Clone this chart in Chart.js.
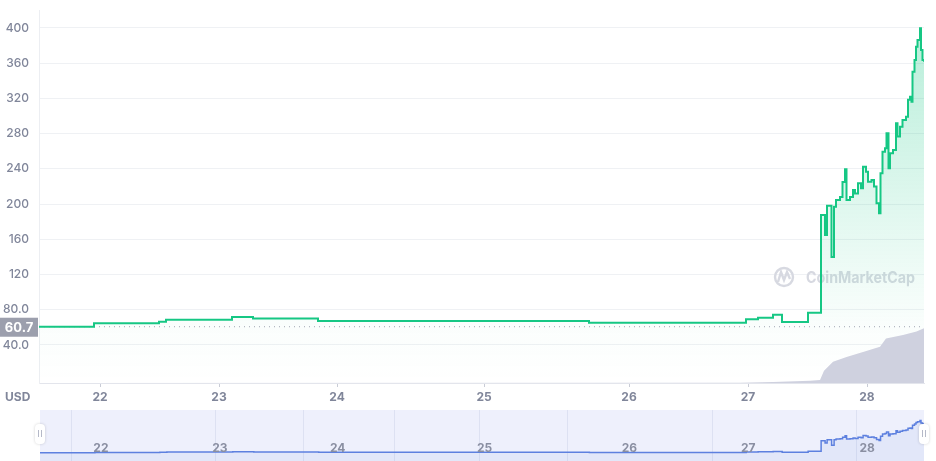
<!DOCTYPE html>
<html>
<head>
<meta charset="utf-8">
<script src="https://cdn.jsdelivr.net/npm/chart.js@4"></script>
<style>
  html, body { margin: 0; padding: 0; background: #fff; }
  #wrap { position: relative; width: 936px; height: 461px; }
  #priceChart { position: absolute; left: 0; top: 0; }
  #navChart { position: absolute; left: 0; top: 406px; }
</style>
</head>
<body>
<div id="wrap">
  <canvas id="priceChart" width="936" height="406"></canvas>
  <canvas id="navChart" width="936" height="55"></canvas>
</div>
<script>
// Price chart (USD) over ~7 days, x = sample index of the feed
const DAY_LABELS = ['22', '23', '24', '25', '26', '27', '28'];
const DAY_TICKS = [12.2, 36, 59.6, 89, 118, 141.8, 165.6];
const NAV_GRID = [6.2, 35, 52.6, 70.8, 87.8, 105.6, 134.6, 163.4];
const Y_TICKS = [40, 80, 120, 160, 200, 240, 280, 320, 360, 400];
const OPEN_PRICE = 60.7;
const X_END = 177;

const PRICE_T = [
    0, 11, 24, 25.4, 38.6, 42.8, 55.8, 110, 141.4, 143.8, 146.8, 148.6, 153.8,
    156.4, 157.2, 157.6, 158.5, 159, 159.4, 160.2, 160.7, 161.2, 161.5, 162.2,
    162.8, 163.2, 163.8, 164.4, 164.8, 165.4, 165.8, 166.5, 167, 167.5, 168,
    168.3, 168.7, 169.2, 169.5, 169.9, 170.2, 170.8, 171.4, 171.7, 172.2, 172.7,
    173.4, 173.8, 174.2, 174.5, 174.7, 175.1, 175.4, 175.7, 176.2, 176.4, 176.7, 177
];
const PRICE_USD = [
    60.7, 64.6, 66.4, 68.7, 71.8, 70.0, 67.2, 65.3, 69.2, 71.0, 74.4, 66.0, 76.7,
    187.6, 165, 198, 140, 197, 204.6, 208, 225, 239.5, 204.6, 208,
    216, 212, 223.6, 218, 242.5, 236.8, 225.4, 227.4, 220, 200.9, 189.6,
    235, 259.5, 263.3, 280.4, 240.6, 257.7, 261.4, 291.7, 276.7, 287.9, 295.5,
    299.2, 318.4, 322, 316.3, 350.3, 363.6, 378.8, 386.4, 399.7, 374.9, 363.6, 361.7
];

// volume, arbitrary units (drawn on its own hidden axis)
const VOLUME_T = [0, 140.2, 146.8, 154.2, 156.2, 157, 158.8, 161.5, 164.8, 168.2, 169.4, 172.8, 175.5, 177];
const VOLUME_M = [0, 0.1, 0.3, 0.6, 0.8, 3.3, 5.7, 7.0, 8.3, 9.7, 11.9, 12.9, 13.8, 14.7];

const GREEN = '#16c784';
const TICK_GREY = '#80869a';
const FONT = 'Inter, "Noto Sans", sans-serif';

const pts = (xs, ys) => xs.map((x, i) => ({ x: x, y: ys[i] }));

function greenFill(ctx) {
    const area = ctx.chart.chartArea;
    if (!area) return 'rgba(22,199,132,0.1)';
    const g = ctx.chart.ctx.createLinearGradient(0, area.top, 0, area.bottom);
    g.addColorStop(0, 'rgba(22,199,132,0.32)');
    g.addColorStop(0.85, 'rgba(22,199,132,0.02)');
    g.addColorStop(1, 'rgba(22,199,132,0)');
    return g;
}

const extras = {
    id: 'extras',
    beforeDatasetsDraw(chart) {
        // CoinMarketCap watermark
        const { ctx } = chart;
        ctx.save();
        ctx.strokeStyle = '#d7d9e1';
        ctx.lineWidth = 2.4;
        ctx.beginPath();
        ctx.arc(784, 277, 9, 0, Math.PI * 2);
        ctx.stroke();
        ctx.beginPath();
        ctx.moveTo(778, 282);
        ctx.lineTo(781, 272);
        ctx.lineTo(784, 280);
        ctx.lineTo(787, 272);
        ctx.lineTo(790, 279);
        ctx.stroke();
        ctx.fillStyle = '#d7d9e1';
        ctx.font = 'bold 16px ' + FONT;
        ctx.textBaseline = 'middle';
        ctx.fillText('CoinMarketCap', 806, 278, 109);
        ctx.restore();
    },
    afterDraw(chart) {
        const { ctx, scales } = chart;
        ctx.save();
        // current price tag on the y axis
        const y = scales.y.getPixelForValue(OPEN_PRICE);
        ctx.fillStyle = '#9c9fad';
        ctx.fillRect(0, y - 9, 38, 19);
        ctx.fillStyle = '#fff';
        ctx.font = 'bold 13px ' + FONT;
        ctx.textAlign = 'center';
        ctx.textBaseline = 'middle';
        ctx.fillText(OPEN_PRICE.toFixed(1), 19, y + 1);
        // currency caption
        ctx.fillStyle = TICK_GREY;
        ctx.font = 'bold 12px ' + FONT;
        ctx.textAlign = 'left';
        ctx.fillText('USD', 5, 397);
        ctx.restore();
    }
};

new Chart(document.getElementById('priceChart'), {
    type: 'line',
    data: {
        datasets: [
            {
                data: pts(PRICE_T, PRICE_USD),
                borderColor: GREEN,
                borderWidth: 2,
                stepped: 'before',
                pointRadius: 0,
                fill: 'start',
                backgroundColor: greenFill,
                order: 1
            },
            {
                data: pts(VOLUME_T, VOLUME_M),
                yAxisID: 'vol',
                borderWidth: 0,
                pointRadius: 0,
                fill: 'start',
                backgroundColor: '#cfd1df',
                order: 0
            },
            {
                data: [{ x: 0, y: OPEN_PRICE }, { x: X_END, y: OPEN_PRICE }],
                borderColor: '#a3a6b4',
                borderWidth: 1,
                borderDash: [1, 4],
                pointRadius: 0,
                fill: false,
                order: 2
            }
        ]
    },
    options: {
        responsive: false,
        animation: false,
        layout: { padding: { left: 0, right: 12, top: 10, bottom: 0 } },
        plugins: { legend: { display: false }, tooltip: { enabled: false } },
        scales: {
            x: {
                type: 'linear',
                min: 0,
                max: X_END,
                afterBuildTicks: s => { s.ticks = DAY_TICKS.map(v => ({ value: v })); },
                afterFit: s => { s.height = 23; s.paddingLeft = 0; s.paddingRight = 0; },
                grid: { drawOnChartArea: false, drawTicks: true, tickLength: 4, color: '#c9ccd6' },
                border: { color: '#e3e5ec' },
                ticks: {
                    autoSkip: false,
                    maxRotation: 0,
                    padding: 3,
                    color: TICK_GREY,
                    font: { family: FONT, size: 12, weight: 'bold' },
                    callback: (v, i) => DAY_LABELS[i]
                }
            },
            y: {
                min: -3.2,
                max: 420.4,
                afterBuildTicks: s => { s.ticks = Y_TICKS.map(v => ({ value: v })); },
                afterFit: s => { s.width = 39; s.paddingTop = 0; s.paddingBottom = 0; },
                grid: { color: '#eff1f4', drawTicks: false },
                border: { color: '#eceef2' },
                ticks: {
                    padding: 10,
                    color: TICK_GREY,
                    font: { family: FONT, size: 12, weight: '500' },
                    callback: v => v < 100 ? v.toFixed(1) : String(v)
                }
            },
            vol: { display: false, min: 0, max: 100 }
        }
    },
    plugins: [extras]
});

// Navigator strip under the main chart
const navDecor = {
    id: 'navDecor',
    beforeDatasetsDraw(chart) {
        const { ctx, chartArea: a, scales } = chart;
        ctx.save();
        ctx.fillStyle = '#eef0fc';
        ctx.fillRect(a.left, a.top, a.right - a.left, a.bottom - a.top);
        ctx.strokeStyle = '#dde1f2';
        ctx.lineWidth = 1;
        NAV_GRID.forEach(v => {
            const x = Math.round(scales.x.getPixelForValue(v)) + 0.5;
            ctx.beginPath();
            ctx.moveTo(x, a.top);
            ctx.lineTo(x, a.bottom);
            ctx.stroke();
        });
        ctx.restore();
    },
    afterDraw(chart) {
        const { ctx, chartArea: a, scales } = chart;
        ctx.save();
        ctx.fillStyle = '#8a8fa2';
        ctx.font = 'bold 12px ' + FONT;
        ctx.textAlign = 'center';
        ctx.textBaseline = 'middle';
        DAY_TICKS.forEach((v, i) => ctx.fillText(DAY_LABELS[i], scales.x.getPixelForValue(v), 42));
        // drag handles at both ends
        [a.left, a.right].forEach(x => {
            ctx.shadowColor = 'rgba(0,0,0,0.18)';
            ctx.shadowBlur = 3;
            ctx.fillStyle = '#fff';
            ctx.beginPath();
            ctx.roundRect(x - 5, 18, 10, 20, 4);
            ctx.fill();
            ctx.shadowBlur = 0;
            ctx.fillStyle = '#b5b9c8';
            ctx.fillRect(x - 2, 24, 1, 7);
            ctx.fillRect(x + 1, 24, 1, 7);
        });
        ctx.restore();
    }
};

new Chart(document.getElementById('navChart'), {
    type: 'line',
    data: {
        datasets: [{
            data: pts(PRICE_T, PRICE_USD),
            borderColor: '#5d80df',
            borderWidth: 1.5,
            stepped: 'before',
            pointRadius: 0,
            fill: 'start',
            backgroundColor: 'rgba(93,128,223,0.08)'
        }]
    },
    options: {
        responsive: false,
        animation: false,
        layout: { padding: { left: 40, right: 12, top: 4, bottom: 0 } },
        plugins: { legend: { display: false }, tooltip: { enabled: false } },
        scales: {
            x: { type: 'linear', display: false, min: 0, max: X_END },
            y: { display: false, min: -25, max: 510 }
        }
    },
    plugins: [navDecor]
});
</script>
</body>
</html>
